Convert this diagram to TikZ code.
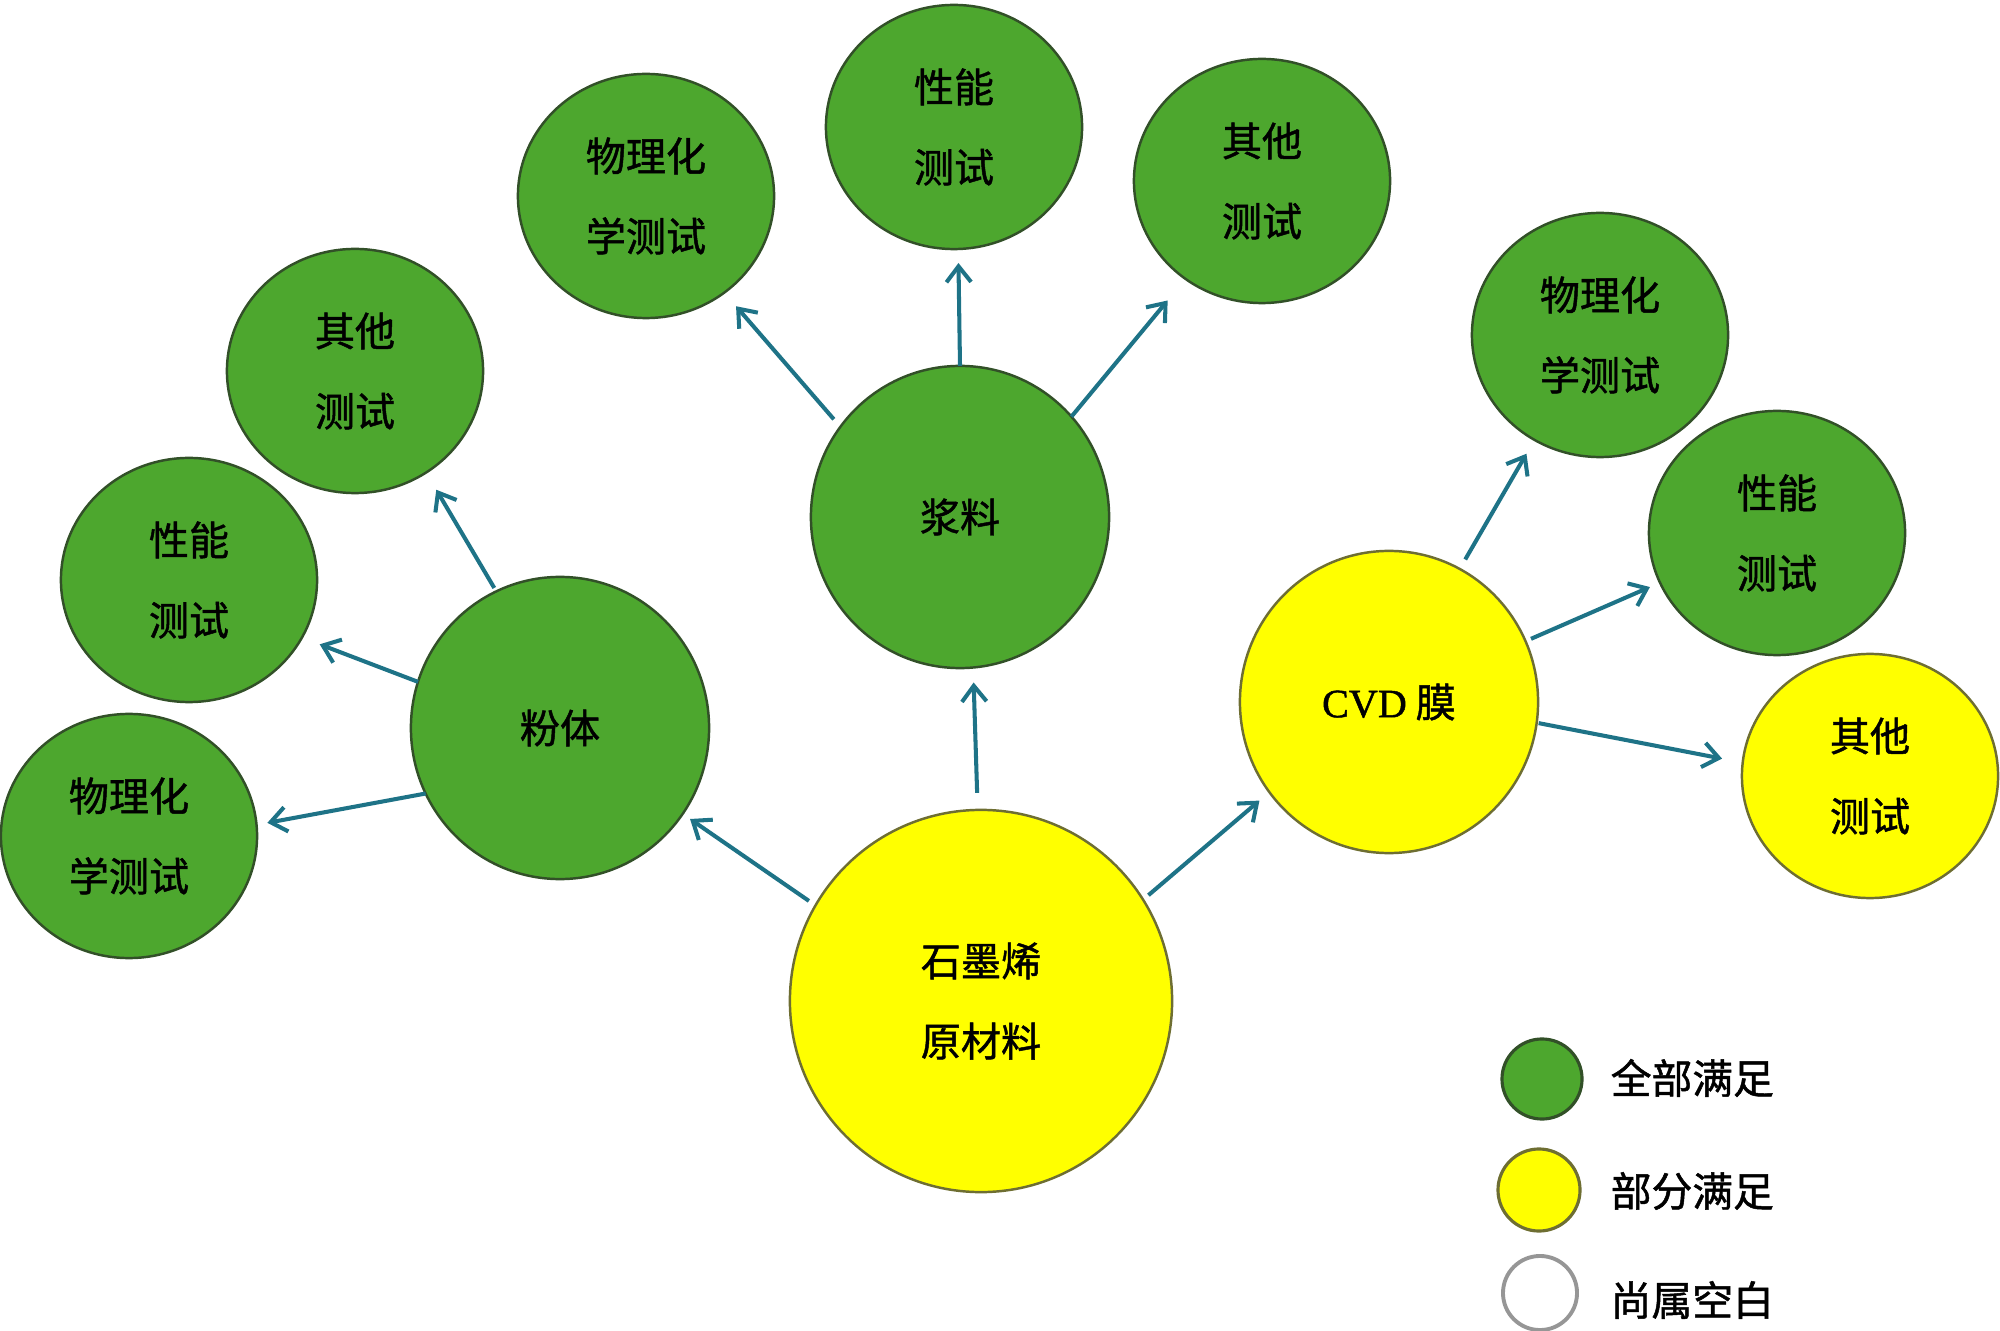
\documentclass[tikz,border=0pt]{standalone}
\usepackage{fontspec}
\setmainfont{Liberation Serif}[FakeBold=1.2]
\newfontfamily\cjk{Noto Sans CJK SC}[FakeBold=1.2]
\usetikzlibrary{shapes.geometric,arrows.meta}
\definecolor{gfill}{RGB}{77,167,46}
\definecolor{yfill}{RGB}{255,255,0}
\definecolor{gline}{RGB}{50,80,40}
\definecolor{yline}{RGB}{110,110,50}
\definecolor{arrc}{RGB}{30,115,135}
\definecolor{wline}{RGB}{150,150,150}
\begin{document}
\begin{tikzpicture}[x=0.01cm,y=-0.01cm,
  base/.style={ellipse, inner sep=0pt, outer sep=0pt, line width=0.7pt, align=center,
    font=\cjk\fontsize{11.4}{22.8}\selectfont},
  gnode/.style={base, fill=gfill, draw=gline},
  ynode/.style={base, fill=yfill, draw=yline},
  big/.style={minimum width=3.82cm, minimum height=3.82cm},
  mid/.style={minimum width=2.98cm, minimum height=3.02cm},
  small/.style={minimum width=2.56cm, minimum height=2.44cm},
  arr/.style={draw=arrc, line width=1.15pt, -{Straight Barb[length=4.5pt,width=7pt]}},
  legtext/.style={anchor=west, inner sep=0pt, font=\cjk\fontsize{11.6}{14}\selectfont},
  ]
\useasboundingbox (0,0) rectangle (2000,1331);

% main nodes
\node[ynode, big] (main) at (981,1001) {石墨烯\\原材料};
\node[gnode, mid] (slu) at (960,517) {浆料};
\node[gnode, mid] (pow) at (560,728) {粉体};
\node[ynode, mid] (cvd) at (1389,702) {{\rmfamily CVD} 膜};

% slurry children
\node[gnode, small] (s1) at (646,196) {物理化\\学测试};
\node[gnode, small] (s2) at (954,127) {性能\\测试};
\node[gnode, small] (s3) at (1262,181) {其他\\测试};

% powder children
\node[gnode, small] (p1) at (355,371) {其他\\测试};
\node[gnode, small] (p2) at (189,580) {性能\\测试};
\node[gnode, small] (p3) at (129,836) {物理化\\学测试};

% CVD children
\node[gnode, small] (c1) at (1600,335) {物理化\\学测试};
\node[gnode, small] (c2) at (1777,533) {性能\\测试};
\node[ynode, small] (c3) at (1870,776) {其他\\测试};

% arrows
\draw[arr, shorten <=0.08cm, shorten >=0.09cm] (main.150) -- (pow.-35);
\draw[arr, shorten <=0.17cm, shorten >=0.15cm] (main.91) -- (slu.-85);
\draw[arr, shorten <=0.07cm, shorten >=0.13cm] (main.32) -- (cvd.217);
\draw[arr, shorten <=0.04cm, shorten >=0.20cm] (pow.115) -- (p1.-55);
\draw[arr, shorten <=0cm, shorten >=0.19cm] (pow.162) -- (p2.-27);
\draw[arr, shorten <=0cm, shorten >=0.11cm] (pow.206) -- (p3.5);
\draw[arr, shorten <=0.10cm, shorten >=0.18cm] (slu.143) -- (s1.-51);
\draw[arr, shorten <=0cm, shorten >=0.14cm] (slu.90) -- (s2.-88);
\draw[arr, shorten <=0cm, shorten >=0.28cm] (slu.42) -- (s3.232);
\draw[arr, shorten <=0.11cm, shorten >=0.16cm] (cvd.62) -- (c1.238);
\draw[arr, shorten <=0.06cm, shorten >=0.11cm] (cvd.24) -- (c2.203);
\draw[arr, shorten <=0.02cm, shorten >=0.21cm] (cvd.-8) -- (c3.174);

% legend
\node[circle, fill=gfill, draw=gline, line width=0.9pt, minimum size=0.8cm, inner sep=0pt] (lg1) at (1542,1079) {};
\node[circle, fill=yfill, draw=yline, line width=0.9pt, minimum size=0.82cm, inner sep=0pt] (lg2) at (1539,1190) {};
\node[circle, fill=white, draw=wline, line width=1.1pt, minimum size=0.74cm, inner sep=0pt] (lg3) at (1540,1293) {};
\node[legtext] (lt1) at (1610,1078) {全部满足};
\node[legtext] (lt2) at (1610,1191) {部分满足};
\node[legtext] (lt3) at (1610,1300) {尚属空白};
\end{tikzpicture}
\end{document}
